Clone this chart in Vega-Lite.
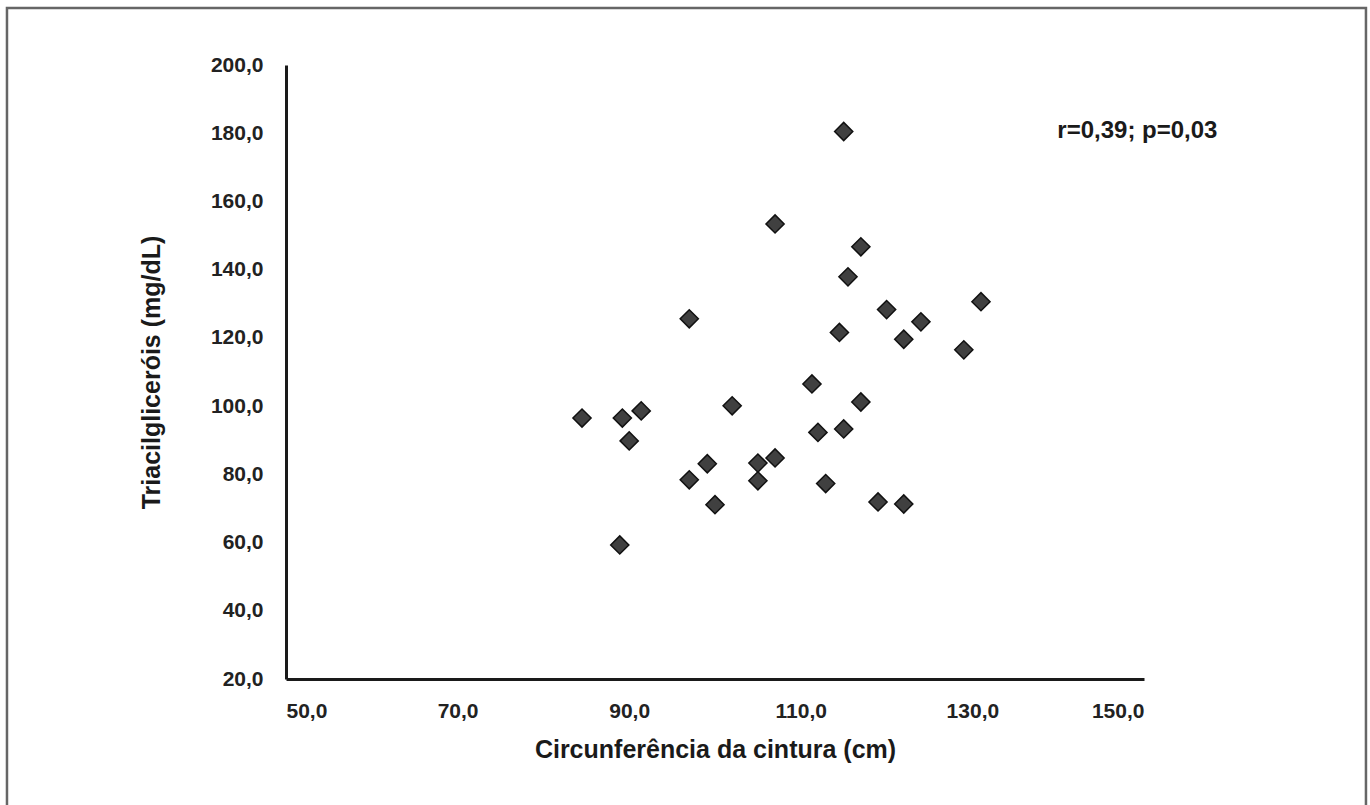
{
  "$schema": "https://vega.github.io/schema/vega-lite/v6.json",
  "width": 858,
  "height": 614,
  "autosize": "none",
  "padding": {"left": 286, "top": 65, "right": 226, "bottom": 126},
  "background": "white",
  "config": {"view": {"stroke": null}},
  "datasets": {
    "pts": [
      {"cintura": 84.5, "tg": 96.5},
      {"cintura": 89.2, "tg": 96.5},
      {"cintura": 91.4, "tg": 98.6},
      {"cintura": 90.0, "tg": 89.8},
      {"cintura": 88.9, "tg": 59.3},
      {"cintura": 97.0, "tg": 125.6},
      {"cintura": 97.0, "tg": 78.4},
      {"cintura": 99.1, "tg": 83.1},
      {"cintura": 100.0, "tg": 71.1},
      {"cintura": 102.0, "tg": 100.1},
      {"cintura": 105.0, "tg": 83.3},
      {"cintura": 105.0, "tg": 78.1},
      {"cintura": 107.0, "tg": 84.8},
      {"cintura": 107.0, "tg": 153.4},
      {"cintura": 111.3, "tg": 106.5},
      {"cintura": 112.0, "tg": 92.3},
      {"cintura": 112.9, "tg": 77.3},
      {"cintura": 114.5, "tg": 121.6},
      {"cintura": 115.0, "tg": 180.5},
      {"cintura": 115.5, "tg": 137.9},
      {"cintura": 115.0, "tg": 93.3},
      {"cintura": 117.0, "tg": 146.7},
      {"cintura": 117.0, "tg": 101.2},
      {"cintura": 119.0, "tg": 71.9},
      {"cintura": 120.0, "tg": 128.3},
      {"cintura": 122.0, "tg": 119.6},
      {"cintura": 122.0, "tg": 71.3},
      {"cintura": 124.0, "tg": 124.7},
      {"cintura": 129.0, "tg": 116.5},
      {"cintura": 131.0, "tg": 130.6}
    ],
    "nota": [
      {"cintura": 139.9, "tg": 180.6, "texto": "r=0,39; p=0,03"}
    ]
  },
  "layer": [
    {
      "data": {"values": [{}]},
      "mark": {"type": "rect", "fill": null, "stroke": "#666666", "strokeWidth": 2.5, "clip": false},
      "encoding": {
        "x": {"datum": 17.48, "type": "quantitative", "scale": {"domain": [50, 150], "nice": false, "zero": false}},
        "x2": {"datum": 175.87},
        "y": {"datum": 216.7, "type": "quantitative", "scale": {"domain": [20, 200], "nice": false, "zero": false}},
        "y2": {"datum": -21.3}
      }
    },
    {
      "data": {"name": "pts"},
      "mark": {"type": "point", "shape": "diamond", "filled": true, "fill": "#404040", "stroke": "#111111", "strokeWidth": 1.5, "size": 330, "opacity": 1},
      "encoding": {
        "x": {
          "field": "cintura", "type": "quantitative",
          "scale": {"domain": [50, 150], "nice": false, "zero": false},
          "axis": {
            "values": [50, 70, 90, 110, 130, 150],
            "labelExpr": "replace(format(datum.value, '.1f'), '.', ',')",
            "ticks": false, "grid": false,
            "domainColor": "#1a1a1a", "domainWidth": 3,
            "labelFont": "Liberation Sans", "labelFontWeight": "bold", "labelFontSize": 21, "labelColor": "#222222",
            "labelPadding": 21,
            "title": "Circunferência da cintura (cm)",
            "titleFont": "Liberation Sans", "titleFontWeight": "bold", "titleFontSize": 25, "titleColor": "#1a1a1a",
            "titlePadding": 16
          }
        },
        "y": {
          "field": "tg", "type": "quantitative",
          "scale": {"domain": [20, 200], "nice": false, "zero": false},
          "axis": {
            "values": [20, 40, 60, 80, 100, 120, 140, 160, 180, 200],
            "labelExpr": "replace(format(datum.value, '.1f'), '.', ',')",
            "ticks": false, "grid": false,
            "domainColor": "#1a1a1a", "domainWidth": 3,
            "labelFont": "Liberation Sans", "labelFontWeight": "bold", "labelFontSize": 21, "labelColor": "#222222",
            "labelPadding": 23,
            "title": "Triacilgliceróis (mg/dL)",
            "titleFont": "Liberation Sans", "titleFontWeight": "bold", "titleFontSize": 25, "titleColor": "#1a1a1a",
            "titlePadding": 46
          }
        }
      }
    },
    {
      "data": {"name": "nota"},
      "mark": {"type": "text", "align": "left", "baseline": "middle", "font": "Liberation Sans", "fontWeight": "bold", "fontSize": 24, "color": "#1a1a1a", "clip": false},
      "encoding": {
        "x": {"field": "cintura", "type": "quantitative"},
        "y": {"field": "tg", "type": "quantitative"},
        "text": {"field": "texto"}
      }
    }
  ]
}
